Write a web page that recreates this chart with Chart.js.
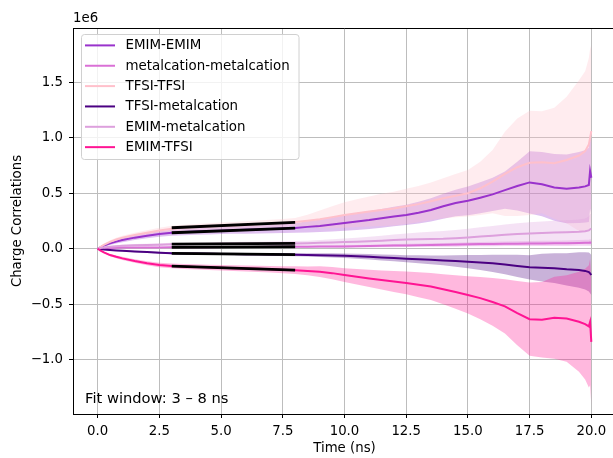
<!DOCTYPE html>
<html>
<head>
<meta charset="utf-8">
<title>Charge correlations</title>
<script src="https://cdn.jsdelivr.net/npm/chart.js@4.4.1/dist/chart.umd.min.js"></script>
<style>
  html, body { margin: 0; padding: 0; background: #fff; overflow: hidden; }
  #corrChart { display: block; }
</style>
</head>
<body>
<canvas id="corrChart" width="620" height="458" style="width:620px;height:458px"></canvas>
<script>
// time axis in ns
var time = [0, 0.1, 0.25, 0.5, 0.75,
  1, 1.5, 2, 2.5, 3, 3.5, 4, 4.5, 5, 5.5,
  6, 6.5, 7, 7.5, 8, 8.5, 9, 9.5, 10, 10.5,
  11, 11.5, 12, 12.5, 13, 13.5, 14, 14.5, 15, 15.5,
  16, 16.5, 17, 17.5, 18, 18.5, 19, 19.5,
  19.75, 19.9, 19.95, 20];

// correlations in units of 1e6, mean and spread
var emimEmim = [0, 0.012, 0.028, 0.048, 0.064,
  0.078, 0.100, 0.118, 0.133, 0.143, 0.150, 0.155, 0.159, 0.163, 0.167,
  0.170, 0.174, 0.178, 0.182, 0.187, 0.197, 0.206, 0.218, 0.232, 0.245,
  0.258, 0.274, 0.290, 0.305, 0.325, 0.350, 0.383, 0.412, 0.432, 0.460,
  0.490, 0.528, 0.565, 0.598, 0.582, 0.553, 0.540, 0.552,
  0.562, 0.575, 0.700, 0.640];
var emimEmimStd = [0, 0.006, 0.010, 0.014, 0.017,
  0.019, 0.021, 0.023, 0.025, 0.027, 0.028, 0.029, 0.030, 0.031, 0.033,
  0.034, 0.036, 0.038, 0.040, 0.043, 0.050, 0.056, 0.063, 0.070, 0.076,
  0.080, 0.084, 0.088, 0.092, 0.098, 0.105, 0.112, 0.120, 0.130, 0.140,
  0.150, 0.168, 0.220, 0.280, 0.290, 0.300, 0.310, 0.320,
  0.325, 0.335, 0.340, 0.340];

var metalMetal = [0, 0.003, 0.005, 0.007, 0.009,
  0.010, 0.011, 0.012, 0.012, 0.013, 0.013, 0.014, 0.014, 0.015, 0.015,
  0.016, 0.016, 0.017, 0.017, 0.018, 0.018, 0.019, 0.020, 0.021, 0.022,
  0.024, 0.026, 0.028, 0.030, 0.032, 0.034, 0.036, 0.038, 0.040, 0.042,
  0.043, 0.045, 0.046, 0.047, 0.048, 0.049, 0.050, 0.052,
  0.053, 0.054, 0.056, 0.054];
var metalMetalStd = [0, 0.001, 0.002, 0.003, 0.004,
  0.004, 0.005, 0.005, 0.006, 0.006, 0.006, 0.006, 0.007, 0.007, 0.007,
  0.007, 0.007, 0.008, 0.008, 0.008, 0.009, 0.010, 0.011, 0.012, 0.012,
  0.013, 0.013, 0.014, 0.015, 0.015, 0.016, 0.016, 0.017, 0.018, 0.019,
  0.020, 0.020, 0.021, 0.022, 0.023, 0.024, 0.025, 0.026,
  0.027, 0.028, 0.030, 0.030];

var tfsiTfsi = [0, 0.015, 0.035, 0.062, 0.083,
  0.100, 0.125, 0.145, 0.165, 0.180, 0.189, 0.195, 0.200, 0.205, 0.210,
  0.215, 0.221, 0.227, 0.233, 0.240, 0.252, 0.266, 0.285, 0.305, 0.320,
  0.335, 0.350, 0.362, 0.382, 0.402, 0.428, 0.455, 0.478, 0.500, 0.545,
  0.605, 0.675, 0.735, 0.775, 0.780, 0.770, 0.800, 0.840,
  0.880, 0.940, 1.000, 1.060];
var tfsiTfsiStd = [0, 0.006, 0.010, 0.014, 0.016,
  0.018, 0.020, 0.022, 0.025, 0.027, 0.028, 0.029, 0.030, 0.031, 0.032,
  0.033, 0.034, 0.035, 0.036, 0.038, 0.055, 0.078, 0.098, 0.115, 0.125,
  0.135, 0.145, 0.152, 0.158, 0.164, 0.170, 0.180, 0.195, 0.210, 0.240,
  0.285, 0.380, 0.440, 0.470, 0.460, 0.500, 0.570, 0.680,
  0.720, 0.780, 0.800, 0.780];

var tfsiMetal = [0, -0.004, -0.008, -0.012, -0.015,
  -0.018, -0.025, -0.030, -0.036, -0.041, -0.043, -0.044, -0.045, -0.047, -0.048,
  -0.049, -0.050, -0.051, -0.053, -0.054, -0.056, -0.058, -0.060, -0.063, -0.068,
  -0.073, -0.078, -0.083, -0.090, -0.095, -0.100, -0.105, -0.110, -0.117, -0.124,
  -0.132, -0.142, -0.155, -0.168, -0.171, -0.175, -0.186, -0.192,
  -0.200, -0.210, -0.222, -0.237];
var tfsiMetalStd = [0, 0.002, 0.003, 0.004, 0.005,
  0.006, 0.007, 0.008, 0.008, 0.009, 0.009, 0.010, 0.010, 0.010, 0.011,
  0.011, 0.012, 0.012, 0.013, 0.013, 0.015, 0.017, 0.019, 0.021, 0.023,
  0.025, 0.027, 0.029, 0.032, 0.036, 0.040, 0.045, 0.052, 0.060, 0.068,
  0.078, 0.088, 0.100, 0.110, 0.125, 0.135, 0.145, 0.160,
  0.168, 0.175, 0.180, 0.180];

var emimMetal = [0, 0.006, 0.012, 0.018, 0.023,
  0.026, 0.031, 0.034, 0.037, 0.040, 0.041, 0.042, 0.043, 0.044, 0.045,
  0.045, 0.046, 0.047, 0.047, 0.048, 0.050, 0.053, 0.057, 0.060, 0.064,
  0.068, 0.073, 0.078, 0.083, 0.086, 0.088, 0.090, 0.095, 0.102, 0.110,
  0.118, 0.126, 0.132, 0.138, 0.142, 0.146, 0.149, 0.153,
  0.158, 0.165, 0.175, 0.180];
var emimMetalStd = [0, 0.003, 0.005, 0.007, 0.009,
  0.010, 0.011, 0.012, 0.012, 0.013, 0.013, 0.014, 0.014, 0.015, 0.016,
  0.017, 0.018, 0.019, 0.020, 0.021, 0.023, 0.026, 0.029, 0.032, 0.036,
  0.040, 0.045, 0.050, 0.055, 0.060, 0.065, 0.070, 0.074, 0.078, 0.083,
  0.088, 0.093, 0.097, 0.100, 0.103, 0.106, 0.108, 0.110,
  0.115, 0.125, 0.135, 0.140];

var emimTfsi = [0, -0.015, -0.033, -0.057, -0.073,
  -0.087, -0.110, -0.130, -0.146, -0.155, -0.160, -0.164, -0.168, -0.172, -0.175,
  -0.178, -0.181, -0.185, -0.189, -0.193, -0.200, -0.207, -0.220, -0.237, -0.252,
  -0.268, -0.282, -0.295, -0.308, -0.325, -0.340, -0.365, -0.390, -0.417, -0.445,
  -0.480, -0.520, -0.580, -0.635, -0.640, -0.622, -0.630, -0.658,
  -0.680, -0.700, -0.660, -0.840];
var emimTfsiStd = [0, 0.004, 0.007, 0.010, 0.012,
  0.014, 0.016, 0.018, 0.020, 0.021, 0.022, 0.023, 0.024, 0.025, 0.026,
  0.027, 0.028, 0.030, 0.032, 0.035, 0.040, 0.048, 0.055, 0.062, 0.070,
  0.078, 0.086, 0.095, 0.103, 0.112, 0.122, 0.135, 0.150, 0.168, 0.190,
  0.215, 0.245, 0.290, 0.330, 0.340, 0.370, 0.390, 0.450,
  0.500, 0.550, 0.570, 0.570];

var seriesNames = ['EMIM-EMIM', 'metalcation-metalcation', 'TFSI-TFSI',
  'TFSI-metalcation', 'EMIM-metalcation', 'EMIM-TFSI'];
var seriesColors = ['#9932cc', '#da70d6', '#ffc0cb', '#4b0082', '#dda0dd', '#ff1493'];
var seriesMeans = [emimEmim, metalMetal, tfsiTfsi, tfsiMetal, emimMetal, emimTfsi];
var seriesStds = [emimEmimStd, metalMetalStd, tfsiTfsiStd, tfsiMetalStd, emimMetalStd, emimTfsiStd];

// linear fits over the 3-8 ns window
var fitWindow = [3, 8];
var fitStart = [0.144, 0.013, 0.189, -0.042, 0.042, -0.156];
var fitEnd = [0.186, 0.018, 0.238, -0.054, 0.048, -0.192];

var xTicks = [0, 2.5, 5, 7.5, 10, 12.5, 15, 17.5, 20];
var yTicks = [-1.0, -0.5, 0.0, 0.5, 1.0, 1.5];

var FONT = '"DejaVu Sans", sans-serif';

function rgba(hex, a) {
  var n = parseInt(hex.slice(1), 16);
  return 'rgba(' + (n >> 16) + ',' + ((n >> 8) & 255) + ',' + (n & 255) + ',' + a + ')';
}

function fmt(v) {
  if (Math.abs(v) < 1e-9) return '0.0';
  return (v < 0 ? '\u2212' : '') + Math.abs(v).toFixed(1);
}

var datasets = [];

// shaded spread, drawn under every line
seriesMeans.forEach(function (mean, i) {
  var std = seriesStds[i];
  datasets.push({
    label: seriesNames[i] + ' upper',
    data: time.map(function (t, k) { return { x: t, y: mean[k] + std[k] }; }),
    borderWidth: 0,
    borderColor: 'rgba(0,0,0,0)',
    backgroundColor: rgba(seriesColors[i], 0.3),
    pointRadius: 0,
    fill: '+1',
    order: 100 - i
  });
  datasets.push({
    label: seriesNames[i] + ' lower',
    data: time.map(function (t, k) { return { x: t, y: mean[k] - std[k] }; }),
    borderWidth: 0,
    borderColor: 'rgba(0,0,0,0)',
    pointRadius: 0,
    fill: false,
    order: 100 - i
  });
});

// mean curves
seriesMeans.forEach(function (mean, i) {
  datasets.push({
    label: seriesNames[i],
    isMean: true,
    data: time.map(function (t, k) { return { x: t, y: mean[k] }; }),
    borderColor: seriesColors[i],
    borderWidth: 2,
    pointRadius: 0,
    fill: false,
    order: 50 - i
  });
});

// fit lines on top
fitStart.forEach(function (v, i) {
  datasets.push({
    label: seriesNames[i] + ' fit',
    data: [{ x: fitWindow[0], y: v }, { x: fitWindow[1], y: fitEnd[i] }],
    borderColor: '#000000',
    borderWidth: 2.8,
    pointRadius: 0,
    fill: false,
    order: 10 - i
  });
});

var decorations = {
  id: 'decorations',
  afterDraw: function (chart) {
    var ctx = chart.ctx, area = chart.chartArea;
    ctx.save();
    // top spine
    ctx.strokeStyle = '#000';
    ctx.lineWidth = 1;
    ctx.beginPath();
    ctx.moveTo(area.left, Math.round(area.top) + 0.5);
    ctx.lineTo(area.right, Math.round(area.top) + 0.5);
    ctx.stroke();

    ctx.fillStyle = '#000';
    ctx.textAlign = 'left';
    ctx.textBaseline = 'middle';
    ctx.font = '13.3px ' + FONT;
    ctx.fillText('1e6', area.left, 19);
    ctx.font = '14.7px ' + FONT;
    ctx.fillText('Fit window: 3 \u2013 8 ns', 85, 399);

    // legend box
    ctx.font = '13.4px ' + FONT;
    ctx.beginPath();
    ctx.roundRect(81.5, 34.5, 217.5, 125, 3);
    ctx.fillStyle = 'rgba(255,255,255,0.8)';
    ctx.fill();
    ctx.strokeStyle = '#d0d0d0';
    ctx.stroke();

    var row = 0;
    chart.data.datasets.forEach(function (ds) {
      if (!ds.isMean) return;
      var y = 45.4 + row * 20.35;
      ctx.strokeStyle = ds.borderColor;
      ctx.lineWidth = 2;
      ctx.beginPath();
      ctx.moveTo(85, y);
      ctx.lineTo(115, y);
      ctx.stroke();
      ctx.fillStyle = '#000';
      ctx.fillText(ds.label, 125.5, y + 0.5);
      row++;
    });
    ctx.restore();
  }
};

new Chart(document.getElementById('corrChart'), {
  type: 'line',
  data: { datasets: datasets },
  plugins: [decorations],
  options: {
    responsive: false,
    animation: false,
    devicePixelRatio: 1,
    layout: { padding: { top: 28, right: 4, left: 0, bottom: 0 } },
    plugins: {
      legend: { display: false },
      tooltip: { enabled: false }
    },
    scales: {
      x: {
        type: 'linear',
        min: -1,
        max: 21,
        afterBuildTicks: function (scale) {
          scale.ticks = xTicks.map(function (v) { return { value: v }; });
        },
        afterFit: function (scale) { scale.height = 44; },
        grid: { color: '#bdbdbd', lineWidth: 1, tickLength: 4, tickColor: '#000' },
        border: { color: '#000', width: 1 },
        ticks: {
          padding: 6,
          maxRotation: 0,
          autoSkip: false,
          color: '#000',
          font: { family: FONT, size: 13.3 },
          callback: function (v) { return fmt(v); }
        },
        title: {
          display: true,
          text: 'Time (ns)',
          color: '#000',
          font: { family: FONT, size: 13.3 },
          padding: { top: 0, bottom: 1 }
        }
      },
      y: {
        type: 'linear',
        min: -1.49,
        max: 1.99,
        afterBuildTicks: function (scale) {
          scale.ticks = yTicks.map(function (v) { return { value: v }; });
        },
        afterFit: function (scale) { scale.width = 73; },
        grid: { color: '#bdbdbd', lineWidth: 1, tickLength: 4, tickColor: '#000' },
        border: { color: '#000', width: 1 },
        ticks: {
          padding: 6,
          autoSkip: false,
          color: '#000',
          font: { family: FONT, size: 13.3 },
          callback: function (v) { return fmt(v); }
        },
        title: {
          display: true,
          text: 'Charge Correlations',
          color: '#000',
          font: { family: FONT, size: 13.3 },
          padding: { top: 9.5, bottom: 0 }
        }
      }
    }
  }
});
</script>
</body>
</html>
